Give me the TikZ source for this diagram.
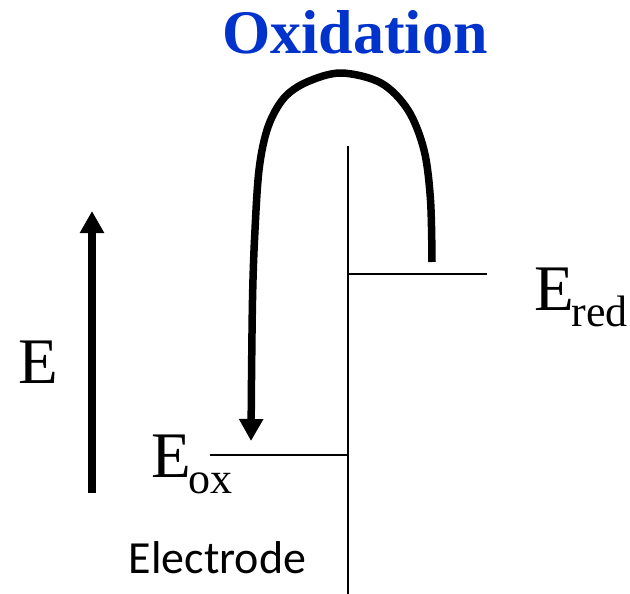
\documentclass[tikz,border=0pt]{standalone}
\usepackage{fontspec}
\setmainfont{LiberationSerif}[Extension=.ttf, UprightFont=*-Regular, BoldFont=*-Bold]
\newfontfamily\calfont{Carlito}
\usetikzlibrary{arrows.meta}
\definecolor{oxblue}{RGB}{0,51,204}
\tikzset{
  thin line/.style={line width=2pt, black},
  thick arrow/.style={line width=7.5pt, black, -{Triangle[width=23pt,length=22pt]}},
  lbl/.style={inner sep=0pt, outer sep=0pt, anchor=base west},
}
\newcommand{\bigE}{\fontsize{65}{65}\selectfont E}
\newcommand{\subtxt}[1]{{\fontsize{44}{44}\selectfont\raisebox{-16pt}{#1}}}
\begin{document}
\begin{tikzpicture}[x=1pt,y=-1pt]
\useasboundingbox (0,0) rectangle (630,594);
% electrode and levels
\coordinate (vtop) at (348,146);
\coordinate (vbot) at (348,594);
\coordinate (redL) at (348,274);
\coordinate (redR) at (487,274);
\coordinate (oxL) at (210,455);
\coordinate (oxR) at (348,455);
\draw[thin line] (vtop) -- (vbot);
\draw[thin line] (redL) -- (redR);
\draw[thin line] (oxL) -- (oxR);
% energy axis arrow
\coordinate (eb) at (92,493);
\coordinate (et) at (92,211);
\draw[thick arrow, line width=8pt] (eb) -- (et);
% oxidation arrow
\coordinate (cs) at (432,262);
\coordinate (ce) at (251,441);
\draw[thick arrow, line join=round] plot[smooth, tension=0.55] coordinates {
 (cs) (430.5,200) (424,150) (408,110) (381,83) (341,73) (307,82) (284,98)
 (268,127) (259,170) (254.5,240) (252.5,300) (251.5,380)} -- (ce);
% labels
\node[lbl] (E) at (19,383) {\bigE};
\node[lbl] (Eox) at (151,477) {\bigE\kern-2pt\subtxt{ox}};
\node[lbl] (Ered) at (534,310) {\bigE\kern-2pt\subtxt{red}};
\node[inner sep=0pt, anchor=base, text=oxblue] (Ox) at (355,54)
  {\fontsize{62}{62}\selectfont\bfseries Oxidation};
\node[inner sep=0pt, anchor=base] (El) at (217.5,573)
  {\calfont\fontsize{46}{46}\selectfont Electrode};
\end{tikzpicture}
\end{document}
